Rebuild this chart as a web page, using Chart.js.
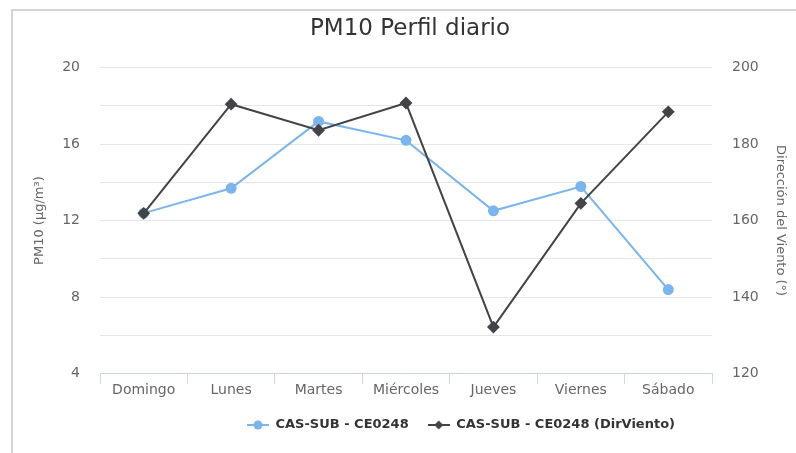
<!DOCTYPE html>
<html>
<head>
<meta charset="utf-8">
<script src="https://cdn.jsdelivr.net/npm/chart.js@4.4.1/dist/chart.umd.min.js"></script>
<style>
html,body{margin:0;padding:0;background:#fff;overflow:hidden;width:796px;height:453px;}
#marco{position:absolute;left:11px;top:9px;width:783px;height:442px;border-left:2px solid #d4d4d4;border-top:2px solid #d4d4d4;}
#wrap{position:absolute;left:0;top:0;width:796px;height:453px;}
</style>
</head>
<body>
<div id="marco"></div>
<div id="wrap"><canvas id="grafico" width="796" height="453"></canvas></div>
<script>
// datos
const dias = ["Domingo","Lunes","Martes","Miércoles","Jueves","Viernes","Sábado"];
const pm10 = [12.39, 13.69, 17.18, 16.19, 12.51, 13.78, 8.40];
const dirViento = [161.9, 190.4, 183.6, 190.7, 132.2, 164.5, 188.4];
const ticksPM = [4, 8, 12, 16, 20];
const ticksDir = [120, 140, 160, 180, 200];

const AZUL = "#7cb5ec", NEGRO = "#434348";

Chart.defaults.font.family = "'DejaVu Sans', sans-serif";

// simbolo de leyenda: linea + marcador
function simbolo(color, forma){
  const c = document.createElement("canvas");
  c.width = 22; c.height = 12;
  const g = c.getContext("2d");
  g.strokeStyle = color; g.lineWidth = 2;
  g.beginPath(); g.moveTo(0,6); g.lineTo(22,6); g.stroke();
  g.fillStyle = color;
  g.beginPath();
  if(forma==="circulo"){ g.arc(11,6,4.5,0,Math.PI*2); }
  else { g.moveTo(11,1.5); g.lineTo(15.5,6); g.lineTo(11,10.5); g.lineTo(6.5,6); g.closePath(); }
  g.fill();
  return c;
}
const simbolos = [simbolo(AZUL,"circulo"), simbolo(NEGRO,"rombo")];

// mover leyenda y titulo como en el original
const desplazar = {
  id: "desplazar",
  afterLayout(chart){
    chart.legend.left += 63; chart.legend.right += 63;
    chart.titleBlock.left += 12; chart.titleBlock.right += 12;
  }
};

new Chart(document.getElementById("grafico"), {
  type: "line",
  data: {
    labels: dias,
    datasets: [
      {
        label: "CAS-SUB - CE0248",
        data: pm10,
        yAxisID: "y",
        borderColor: AZUL, backgroundColor: AZUL,
        borderWidth: 2, pointRadius: 4.5, pointHoverRadius: 4.5,
        pointStyle: "circle", tension: 0, order: 1
      },
      {
        label: "CAS-SUB - CE0248 (DirViento)",
        data: dirViento,
        yAxisID: "y2",
        borderColor: NEGRO, backgroundColor: NEGRO,
        borderWidth: 2, pointRadius: 5, pointHoverRadius: 5,
        pointStyle: "rectRot", tension: 0, order: 0
      }
    ]
  },
  options: {
    responsive: false,
    animation: false,
    layout: {padding: {left: 0, right: 0, top: 0, bottom: 11.5}},
    plugins: {
      title: {
        display: true,
        text: "PM10 Perfil diario",
        color: "#333333",
        font: {size: 23, weight: "normal"},
        padding: {top: 14.9, bottom: 24.9}
      },
      legend: {
        position: "bottom",
        labels: {
          usePointStyle: true,
          pointStyleWidth: 22,
          padding: 19,
          color: "#333333",
          font: {size: 13, weight: "bold"},
          generateLabels(chart){
            return chart.data.datasets.map((ds,i)=>({
              text: ds.label,
              fillStyle: ds.borderColor,
              strokeStyle: ds.borderColor,
              fontColor: "#333333",
              lineWidth: 0,
              pointStyle: simbolos[i],
              hidden: !chart.isDatasetVisible(i),
              datasetIndex: i
            }));
          }
        }
      },
      tooltip: {enabled: false}
    },
    scales: {
      x: {
        offset: true,
        grid: {offset: true, drawOnChartArea: false, drawTicks: true, tickLength: 10, color: "#ccd6eb"},
        border: {display: true, color: "#ccd6eb", width: 1},
        ticks: {color: "#666666", font: {size: 14}, padding: -2, autoSkip: false, maxRotation: 0},
        afterFit(s){ s.height = 25.7; }
      },
      y: {
        position: "left",
        min: 4, max: 20,
        grid: {color: "#e6e6e6", drawTicks: false},
        border: {display: false},
        ticks: {
          stepSize: 2, padding: 20, color: "#666666", font: {size: 14},
          callback: v => ticksPM.includes(v) ? v : ""
        },
        title: {display: true, text: "PM10 (µg/m³)", color: "#666666", font: {size: 13}, padding: {top: 32.2, bottom: 0}},
        afterFit(s){ s.width = 100; }
      },
      y2: {
        position: "right",
        min: 120, max: 200,
        grid: {drawOnChartArea: false, drawTicks: false},
        border: {display: false},
        ticks: {
          stepSize: 10, padding: 20, color: "#666666", font: {size: 14},
          callback: v => ticksDir.includes(v) ? v : ""
        },
        title: {display: true, text: "Dirección del Viento (°)", color: "#666666", font: {size: 13}, padding: {top: 8.2, bottom: 0}},
        afterFit(s){ s.width = 84; }
      }
    }
  },
  plugins: [desplazar]
});
</script>
</body>
</html>
